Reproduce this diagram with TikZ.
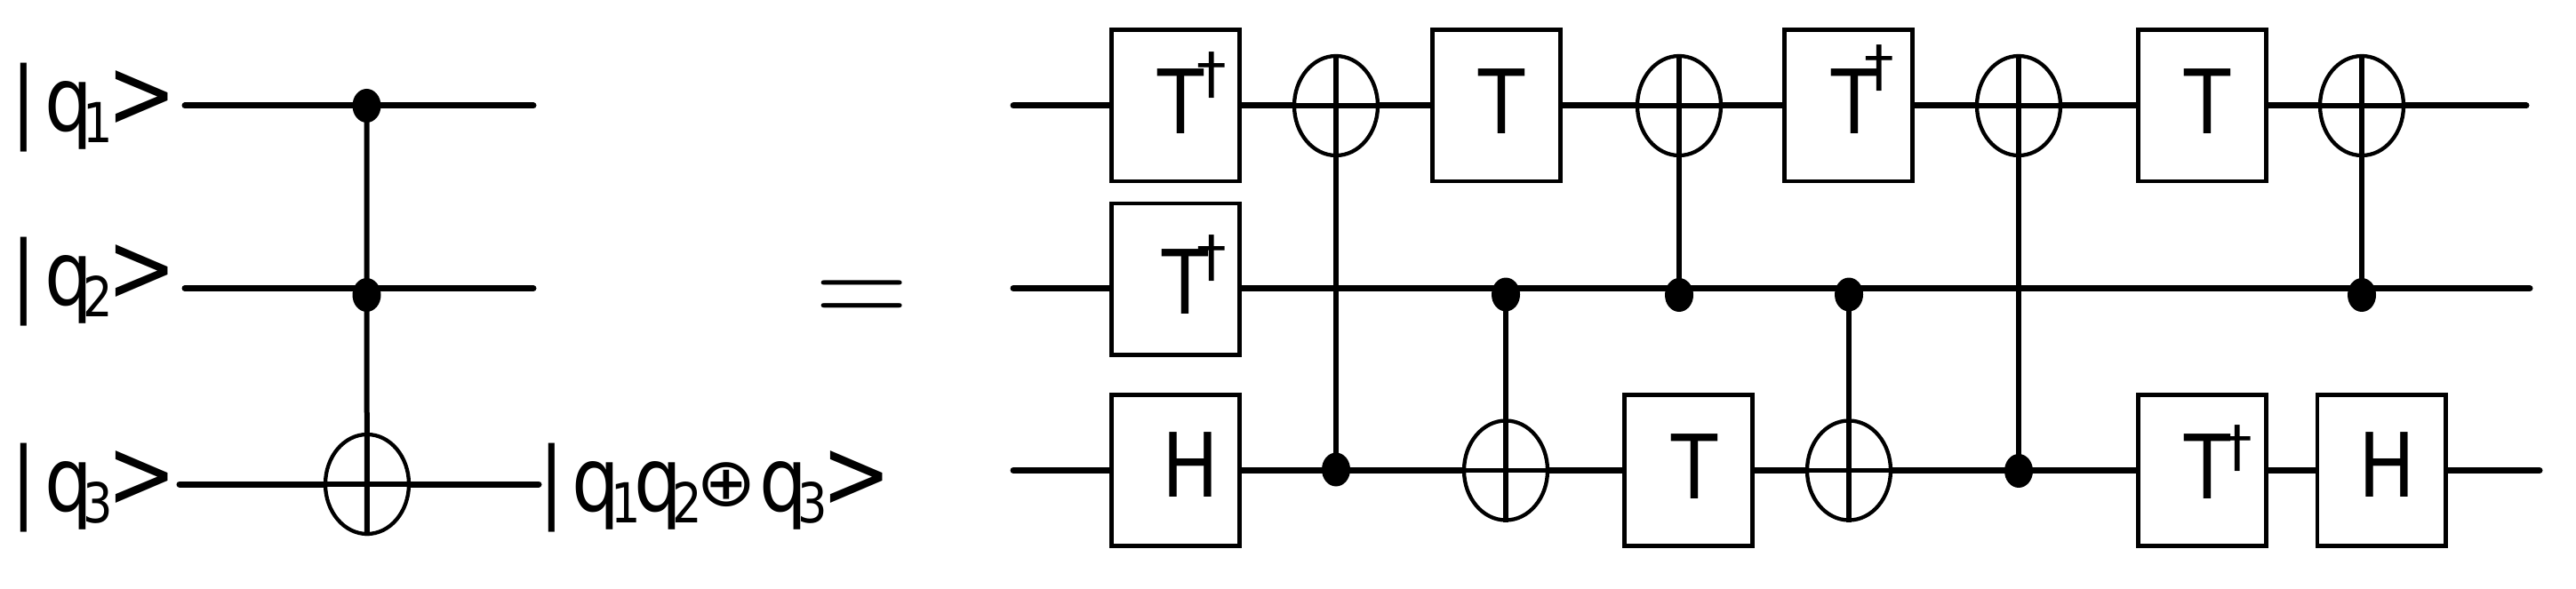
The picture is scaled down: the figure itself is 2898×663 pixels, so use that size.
\documentclass[tikz,border=0pt]{standalone}
\usepackage{fontspec}
\usepackage{graphicx}
\usetikzlibrary{shapes.geometric}
\newfontfamily\djv{DejaVu Sans}
\newcommand\sq[1]{\scalebox{.85}[1]{\djv\fontsize{100}{100}\selectfont #1}}
\newcommand\subd[1]{\raisebox{-12.5pt}{\fontsize{62}{62}\selectfont #1}}
\newcommand\gt{\raisebox{4.5pt}{\fontsize{110}{110}\selectfont >}}
\newcommand\Tdag[2]{T\rlap{\kern#1pt\raisebox{#2pt}{\scalebox{1.25}[1]{\fontsize{63}{63}\selectfont †}}}}
\newcommand\opl{\raisebox{6pt}{\scalebox{1}[.8]{\fontsize{95}{95}\selectfont ⊕}}}
\tikzset{
 wire/.style={line width=7pt,line cap=round},
 ctrl/.style={line width=6pt},
 bar/.style={line width=5.2pt},
 gatebox/.style={draw,line width=4.6pt,minimum width=144.4pt,minimum height=170.4pt,inner sep=0pt,fill=white},
 xorgate/.style={draw,ellipse,line width=4.3pt,minimum width=94pt,minimum height=112pt,inner sep=0pt},
 blob/.style={fill=black,ellipse,minimum width=32pt,minimum height=38pt,inner sep=0pt},
 glyph/.style={inner sep=0pt,outer sep=0pt,anchor=base},
 ketlabel/.style={inner sep=0pt,outer sep=0pt,anchor=base west},
}
\begin{document}
\begin{tikzpicture}[x=1pt,y=-1pt]
\useasboundingbox (0,0) rectangle (2898,663);
% left circuit
\node[xorgate] (e0) at (413,545) {};
\node[blob] (a1) at (412.5,119) {};
\node[blob] (a2) at (412.5,332) {};
\coordinate (p1) at (208,119); \coordinate (r1) at (600,119);
\coordinate (p2) at (208,324.5); \coordinate (r2) at (600,324.5);
\coordinate (p3) at (202,545); \coordinate (r3) at (606,545);
\draw[wire] (p1) -- (r1);
\draw[wire] (p2) -- (r2);
\draw[wire] (p3) -- (e0.west);
\draw[wire] (e0.east) -- (r3);
\draw[bar] (e0.west) -- (e0.east);
\draw[ctrl] (a1.center) -- (a2.center) -- (e0.south);
% labels
\node[ketlabel] (k1) at (12.5,148) {\sq{|\kern11pt q\kern-13pt\subd{1}\kern-8pt\gt}};
\node[ketlabel] (k2) at (12.5,343.5) {\sq{|\kern11pt q\kern-13pt\subd{2}\kern-8pt\gt}};
\node[ketlabel] (k3) at (12.5,575.5) {\sq{|\kern11pt q\kern-13pt\subd{3}\kern-8pt\gt}};
\node[ketlabel] (k4) at (606.5,575.5) {\sq{|\kern9.6pt q\kern-11.8pt\subd{1}\kern-8.8pt q\kern-12.8pt\subd{2}\kern-8pt\opl\kern4pt q\kern-12pt\subd{3}\kern-7.6pt\gt}};
\node[glyph] (eq) at (970,367) {\fontsize{145}{145}\selectfont =};
% right circuit
\coordinate (tL) at (1140,119); \coordinate (tR) at (2842,119);
\coordinate (mL) at (1140,324.5); \coordinate (mR) at (2846,324.5);
\coordinate (bL) at (1140,529.5); \coordinate (bR) at (2857,529.5);
\node[gatebox] (g1) at (1322.5,119) {};
\node[gatebox] (g2) at (1322.5,314) {};
\node[gatebox] (g3) at (1322.5,529.5) {};
\node[gatebox] (g4) at (1683.5,119) {};
\node[gatebox] (g5) at (1899.5,529.5) {};
\node[gatebox] (g6) at (2079.5,119) {};
\node[gatebox] (g7) at (2477.5,119) {};
\node[gatebox] (g8) at (2477.5,529.5) {};
\node[gatebox] (g9) at (2679,529.5) {};
\node[xorgate] (x1) at (1503,119) {};
\node[xorgate] (x2) at (1694,529.5) {};
\node[xorgate] (x3) at (1889,119) {};
\node[xorgate] (x4) at (2080,529.5) {};
\node[xorgate] (x5) at (2271,119) {};
\node[xorgate] (x6) at (2657,119) {};
\node[blob] (b1) at (1503,528.5) {};
\node[blob] (b2) at (1694,331.5) {};
\node[blob] (b3) at (1889,332) {};
\node[blob] (b4) at (2080,331.5) {};
\node[blob] (b5) at (2271,530) {};
\node[blob] (b6) at (2657,332) {};
\draw[wire] (tL) -- (g1.west);
\draw[wire] (g1.east) -- (x1.west);
\draw[wire] (x1.east) -- (g4.west);
\draw[wire] (g4.east) -- (x3.west);
\draw[wire] (x3.east) -- (g6.west);
\draw[wire] (g6.east) -- (x5.west);
\draw[wire] (x5.east) -- (g7.west);
\draw[wire] (g7.east) -- (x6.west);
\draw[wire] (x6.east) -- (tR);
\draw[wire] (mL) -- (mL -| g2.west);
\draw[wire] (mL -| g2.east) -- (mR);
\draw[wire] (bL) -- (g3.west);
\draw[wire] (g3.east) -- (x2.west);
\draw[wire] (x2.east) -- (g5.west);
\draw[wire] (g5.east) -- (x4.west);
\draw[wire] (x4.east) -- (g8.west);
\draw[wire] (g8.east) -- (g9.west);
\draw[wire] (g9.east) -- (bR);
\foreach \n in {x1,x2,x3,x4,x5,x6} \draw[bar] (\n.west) -- (\n.east);
\draw[ctrl] (x1.north) -- (b1.center);
\draw[ctrl] (x2.south) -- (b2.center);
\draw[ctrl] (x3.north) -- (b3.center);
\draw[ctrl] (x4.south) -- (b4.center);
\draw[ctrl] (x5.north) -- (b5.center);
\draw[ctrl] (x6.north) -- (b6.center);
% gate labels
\node[glyph] (t1) at (1328,151) {\sq{\Tdag{-9}{46}}};
\node[glyph] (t2) at (1333.5,353) {\sq{\Tdag{-15}{43}}};
\node[glyph] (t3) at (1339.5,559) {\sq{H}};
\node[glyph] (t4) at (1689,151) {\sq{T}};
\node[glyph] (t5) at (1906,561) {\sq{T}};
\node[glyph] (t6) at (2086,151) {\sq{\Tdag{-17}{54}}};
\node[glyph] (t7) at (2483,151) {\sq{T}};
\node[glyph] (t8) at (2483,561) {\sq{\Tdag{-10}{37}}};
\node[glyph] (t9) at (2685.5,559) {\sq{H}};
\end{tikzpicture}
\end{document}
